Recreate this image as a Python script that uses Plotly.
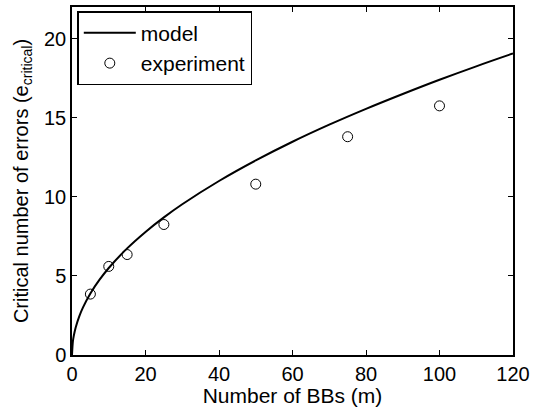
import plotly.graph_objects as go

model_x = [0, 0.25, 0.5, 1, 2, 3, 5, 7.5, 10, 15, 20, 25, 30, 40, 50, 60, 70, 80, 90, 100, 110, 120]
model_y = [0, 0.87, 1.23, 1.74, 2.46, 3.01, 3.89, 4.76, 5.5, 6.74, 7.78, 8.7, 9.53, 11.0, 12.3, 13.48, 14.56, 15.56, 16.5, 17.4, 18.25, 19.06]

exp_x = [5, 10, 15, 25, 50, 75, 100]
exp_y = [3.85, 5.6, 6.35, 8.25, 10.8, 13.8, 15.75]

FONT = "Liberation Sans, Arial, Helvetica, sans-serif"

fig = go.Figure()
fig.add_trace(go.Scatter(x=model_x, y=model_y, mode="lines", name="model",
                         line=dict(color="black", width=2, shape="spline")))
fig.add_trace(go.Scatter(x=exp_x, y=exp_y, mode="markers", name="experiment",
                         marker=dict(symbol="circle-open", size=10, color="black",
                                     line=dict(width=1, color="black"))))

axis_common = dict(showgrid=False, zeroline=False, showline=True, linecolor="black",
                   linewidth=1.5, mirror="ticks", ticks="inside", ticklen=5,
                   tickcolor="black", tickwidth=1,
                   tickfont=dict(family=FONT, size=20, color="black"))

fig.update_layout(
    width=535, height=407,
    margin=dict(l=72, r=18, t=5, b=52),
    paper_bgcolor="white", plot_bgcolor="white",
    font=dict(family=FONT, size=20, color="black"),
    xaxis=dict(range=[0, 120], tickvals=[0, 20, 40, 60, 80, 100, 120],
               title=dict(text="Number of BBs (m)", standoff=0,
                          font=dict(family=FONT, size=21)), **axis_common),
    yaxis=dict(range=[0, 22], tickvals=[0, 5, 10, 15, 20],
               title=dict(text="Critical number of errors (e<sub>critical</sub>)", standoff=10,
                          font=dict(family=FONT, size=20)), **axis_common),
    legend=dict(x=0.012, y=0.988, xanchor="left", yanchor="top",
                bgcolor="white", bordercolor="black", borderwidth=1.5,
                font=dict(family=FONT, size=21), tracegroupgap=0,
                itemwidth=52),
    showlegend=True,
)

fig.write_html("out.html")
